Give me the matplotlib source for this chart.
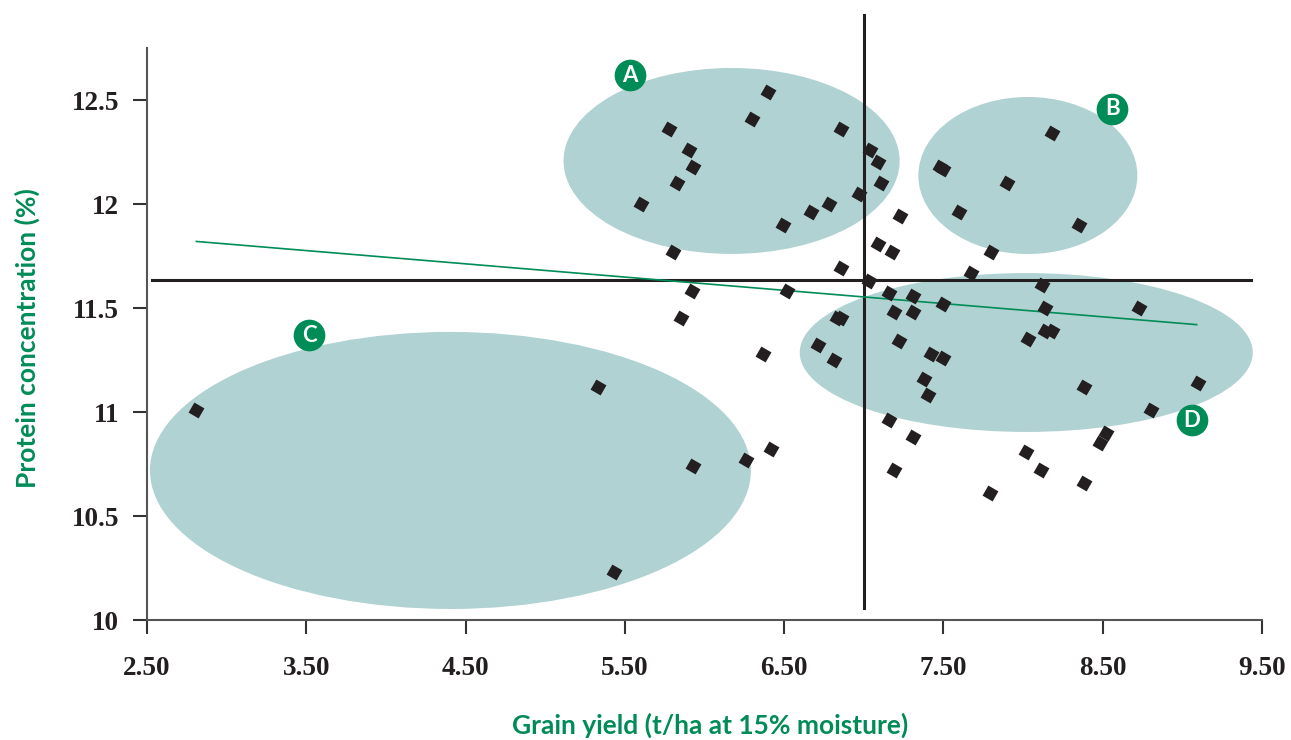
import matplotlib
matplotlib.use('Agg')
import matplotlib.pyplot as plt
from matplotlib.patches import Ellipse

# grain yield (t/ha) and protein (%) of each sample
yield_t = [2.81, 5.33, 5.43, 5.93, 6.26, 6.42, 5.60, 5.78, 5.90, 5.93,
           5.83, 5.80, 5.92, 5.85, 6.40, 6.30, 6.86, 6.49, 6.67, 6.78,
           6.97, 7.04, 7.09, 7.11, 7.23, 7.09, 7.18, 6.86, 7.03, 6.52,
           6.83, 6.86, 6.71, 6.81, 6.37, 7.16, 7.31, 7.50, 7.19, 7.31,
           7.22, 7.42, 7.50, 7.38, 7.40, 7.16, 7.31, 7.19, 7.67, 8.12,
           8.14, 8.73, 8.03, 8.18, 8.14, 8.38, 9.10, 8.80, 8.52, 8.48,
           8.02, 8.11, 8.38, 7.79, 8.18, 7.48, 7.50, 7.90, 7.60, 8.35,
           7.80]
protein = [11.01, 11.12, 10.23, 10.74, 10.77, 10.82, 12.00, 12.36, 12.26, 12.18,
           12.10, 11.77, 11.58, 11.45, 12.54, 12.41, 12.36, 11.90, 11.96, 12.00,
           12.05, 12.26, 12.20, 12.10, 11.94, 11.81, 11.77, 11.69, 11.63, 11.58,
           11.45, 11.45, 11.32, 11.25, 11.28, 11.57, 11.56, 11.52, 11.48, 11.48,
           11.34, 11.28, 11.26, 11.16, 11.08, 10.96, 10.88, 10.72, 11.67, 11.61,
           11.50, 11.50, 11.35, 11.39, 11.39, 11.12, 11.14, 11.01, 10.90, 10.85,
           10.81, 10.72, 10.66, 10.61, 12.34, 12.18, 12.17, 12.10, 11.96, 11.90,
           11.77]

# trend line end points
trend_x = [2.81, 9.09]
trend_y = [11.82, 11.42]

# mean lines
mean_yield = 7.0
mean_protein = 11.635

# group ellipses: label, centre x, centre y, width, height
groups = ['A', 'B', 'C', 'D']
grp_cx = [6.17, 8.03, 4.405, 8.02]
grp_cy = [12.207, 12.137, 10.719, 11.286]
grp_w = [2.11, 1.375, 3.773, 2.844]
grp_h = [0.894, 0.755, 1.332, 0.764]
badge_x = [5.53, 8.56, 3.52, 9.06]
badge_y = [12.62, 12.457, 11.37, 10.96]

xticks = [2.5, 3.5, 4.5, 5.5, 6.5, 7.5, 8.5, 9.5]
xticklabels = ['2.50', '3.50', '4.50', '5.50', '6.50', '7.50', '8.50', '9.50']
yticks = [10, 10.5, 11, 11.5, 12, 12.5]
yticklabels = ['10', '10.5', '11', '11.5', '12', '12.5']

green = '#008c57'
teal = '#b1d2d2'
dark = '#231f20'

fig = plt.figure(figsize=(12.91, 7.40), dpi=100)
ax = fig.add_axes([147 / 1291, 1 - 620 / 740, 1115 / 1291, 572 / 740])

for cx, cy, w, h in zip(grp_cx, grp_cy, grp_w, grp_h):
    ax.add_patch(Ellipse((cx, cy), w, h, facecolor=teal, edgecolor='none', zorder=1))

ax.plot([2.53, 9.43], [mean_protein, mean_protein], color=dark, lw=2.2, zorder=2,
        clip_on=False)
ax.plot([mean_yield, mean_yield], [10.06, 12.91], color=dark, lw=2.2, zorder=2,
        clip_on=False)
ax.plot(trend_x, trend_y, color=green, lw=1.2, zorder=3)

ax.scatter(yield_t, protein, marker=(4, 0, 15), s=140, color=dark, zorder=4,
           linewidths=0)

ax.scatter(badge_x, badge_y, s=520, color=green, zorder=5, clip_on=False,
           linewidths=0)
for lab, bx, by in zip(groups, badge_x, badge_y):
    ax.text(bx, by, lab, color='white', fontsize=16, fontweight='bold',
            family='Lato', ha='center', va='center', zorder=6)

ax.set_xlim(2.5, 9.5)
ax.set_ylim(10, 12.75)
ax.set_xticks(xticks)
ax.set_xticklabels(xticklabels)
ax.set_yticks(yticks)
ax.set_yticklabels(yticklabels)
for lbl in ax.get_xticklabels() + ax.get_yticklabels():
    lbl.set_family('Liberation Serif')
    lbl.set_fontweight('bold')
    lbl.set_fontsize(19.5)
    lbl.set_color(dark)
ax.tick_params(axis='both', direction='out', length=10, width=1.5, color='#333333')
ax.tick_params(axis='x', pad=16)
ax.tick_params(axis='y', pad=10)

for side in ['top', 'right']:
    ax.spines[side].set_visible(False)
for side in ['left', 'bottom']:
    ax.spines[side].set_color('#555555')
    ax.spines[side].set_linewidth(1.5)

fig.text(710 / 1291, 1 - 725 / 740, 'Grain yield (t/ha at 15% moisture)', color=green,
         fontsize=19, fontweight='bold', family='Lato', ha='center', va='center')
fig.text(27 / 1291, 1 - 338 / 740, 'Protein concentration (%)', color=green,
         fontsize=19, fontweight='bold', family='Lato', ha='center', va='center',
         rotation=90)

fig.savefig('out.png', dpi=100)
